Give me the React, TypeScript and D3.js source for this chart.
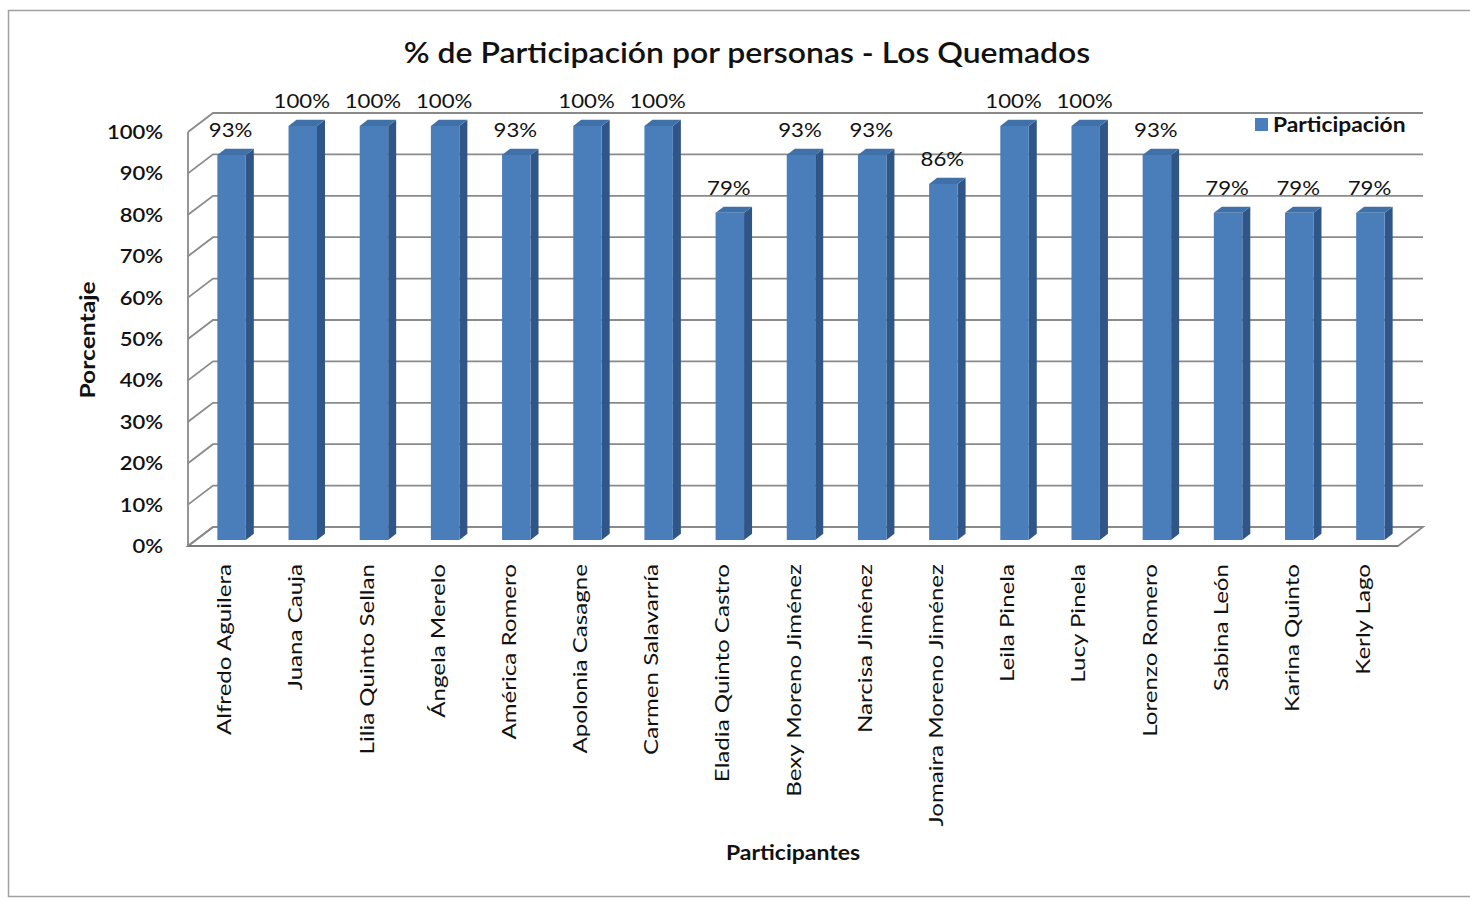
import React from "react";
import * as d3 from "d3";

const categories: string[] = [
  "Alfredo Aguilera",
  "Juana Cauja",
  "Lilia Quinto Sellan",
  "Ángela Merelo",
  "América Romero",
  "Apolonia Casagne",
  "Carmen Salavarría",
  "Eladia Quinto Castro",
  "Bexy Moreno Jiménez",
  "Narcisa Jiménez",
  "Jomaira Moreno Jiménez",
  "Leila Pinela",
  "Lucy Pinela",
  "Lorenzo Romero",
  "Sabina León",
  "Karina Quinto",
  "Kerly Lago",
];
const values: number[] = [93, 100, 100, 100, 93, 100, 100, 79, 93, 93, 86, 100, 100, 93, 79, 79, 79];
const yTicks: number[] = [0, 10, 20, 30, 40, 50, 60, 70, 80, 90, 100];
const seriesName = "Participación";
const title = "% de Participación por personas - Los Quemados";
const xTitle = "Participantes";
const yTitle = "Porcentaje";

const FONT = "Lato, 'Open Sans', sans-serif";

export default function App() {
  const W = 1470;
  const H = 901;
  const left = 188;
  const right = 1398;
  const bottom = 546;
  const top = 132;
  const DX = 25; // full depth offset
  const DY = -19;

  const x = d3
    .scaleBand<string>()
    .domain(categories)
    .range([left, right])
    .paddingInner(0.6)
    .paddingOuter(0.3);
  const y = d3.scaleLinear().domain([0, 100]).range([bottom, top]);

  const proj = (px: number, py: number, f: number): [number, number] => [px + DX * f, py + DY * f];

  const fFront = 0.32;
  const fBack = 0.64;

  const gridColor = "#8a8a8a";
  const frontCol = "#4a7ebb";
  const sideCol = "#2f5687";
  const topCol = "#4070a8";

  const line = d3.line<[number, number]>();

  return (
    <svg
      width={W}
      height={H}
      style={{ position: "absolute", left: 0, top: 0, background: "#fff" }}
      fontFamily={FONT}
    >
      <rect x={8.5} y={10.5} width={W + 10} height={886} fill="#fff" stroke="#a0a0a0" strokeWidth={1.5} />

      {/* title */}
      <text
        transform={`translate(747,63) scale(1.14,1)`}
        textAnchor="middle"
        fontSize={28}
        fontWeight={600}
        fill="#111"
      >
        {title}
      </text>

      {/* floor */}
      <path
        d={
          line([
            proj(left, y(0), 0),
            proj(right, y(0), 0),
            proj(right, y(0), 1),
            proj(left, y(0), 1),
          ])! + "Z"
        }
        fill="#fff"
        stroke={gridColor}
        strokeWidth={1.8}
      />

      {/* gridlines: side wall + back wall */}
      {yTicks.map((t) => (
        <path
          key={"g" + t}
          d={line([proj(left, y(t), 0), proj(left, y(t), 1), proj(right, y(t), 1)])!}
          fill="none"
          stroke={gridColor}
          strokeWidth={1.8}
        />
      ))}
      {/* left axis line */}
      <path d={line([proj(left, y(0), 0), proj(left, y(100), 0)])!} stroke={gridColor} strokeWidth={1.8} fill="none" />
      {/* front floor edge */}
      <path d={line([proj(left, y(0), 0), proj(right, y(0), 0)])!} stroke="#7a7a7a" strokeWidth={2} fill="none" />

      {/* y tick labels */}
      {yTicks.map((t) => (
        <text
          key={"yl" + t}
          transform={`translate(163,${y(t)}) scale(1.1,1)`}
          dy="0.35em"
          textAnchor="end"
          fontSize={20}
          fontWeight={600}
          fill="#111"
        >
          {t}%
        </text>
      ))}

      {/* bars */}
      {categories.map((c, i) => {
        const v = values[i];
        const x0 = x(c)!;
        const x1 = x0 + x.bandwidth();
        const [fx0, fyb] = proj(x0, y(0), fFront);
        const [fx1] = proj(x1, y(0), fFront);
        const [, fyt] = proj(x0, y(v), fFront);
        const [bx0, byt] = proj(x0, y(v), fBack);
        const [bx1, byb] = proj(x1, y(0), fBack);
        const front = line([
          [fx0, fyb],
          [fx1, fyb],
          [fx1, fyt],
          [fx0, fyt],
        ])! + "Z";
        const side = line([
          [fx1, fyb],
          [bx1, byb],
          [bx1, byt],
          [fx1, fyt],
        ])! + "Z";
        const topFace = line([
          [fx0, fyt],
          [fx1, fyt],
          [bx1, byt],
          [bx0, byt],
        ])! + "Z";
        const cx = (fx0 + fx1) / 2 - 1;
        return (
          <g key={c}>
            <path d={side} fill={sideCol} />
            <path d={topFace} fill={topCol} />
            <path d={front} fill={frontCol} />
            <text
              transform={`translate(${cx},${byt - 12}) scale(1.17,1)`}
              textAnchor="middle"
              fontSize={19}
              fill="#111"
            >
              {v}%
            </text>
          </g>
        );
      })}

      {/* x labels */}
      {categories.map((c) => {
        const cx = x(c)! + x.bandwidth() / 2 + 1;
        return (
          <text
            key={"xl" + c}
            transform={`translate(${cx},${564}) rotate(-90) scale(1.27,1)`}
            textAnchor="end"
            dy="0.35em"
            fontSize={19}
            fill="#111"
          >
            {c}
          </text>
        );
      })}

      {/* axis titles */}
      <text
        transform={`translate(793,860) scale(1.15,1)`}
        textAnchor="middle"
        fontSize={20}
        fontWeight={700}
        fill="#111"
      >
        {xTitle}
      </text>
      <text
        transform={`translate(88,340) rotate(-90) scale(1.23,1)`}
        textAnchor="middle"
        dy="0.35em"
        fontSize={20}
        fontWeight={700}
        fill="#111"
      >
        {yTitle}
      </text>

      {/* legend */}
      <rect x={1255} y={118} width={13} height={13} fill={frontCol} />
      <text
        transform={`translate(1273,125) scale(1.14,1)`}
        dy="0.35em"
        fontSize={20}
        fontWeight={700}
        fill="#111"
      >
        {seriesName}
      </text>
    </svg>
  );
}
